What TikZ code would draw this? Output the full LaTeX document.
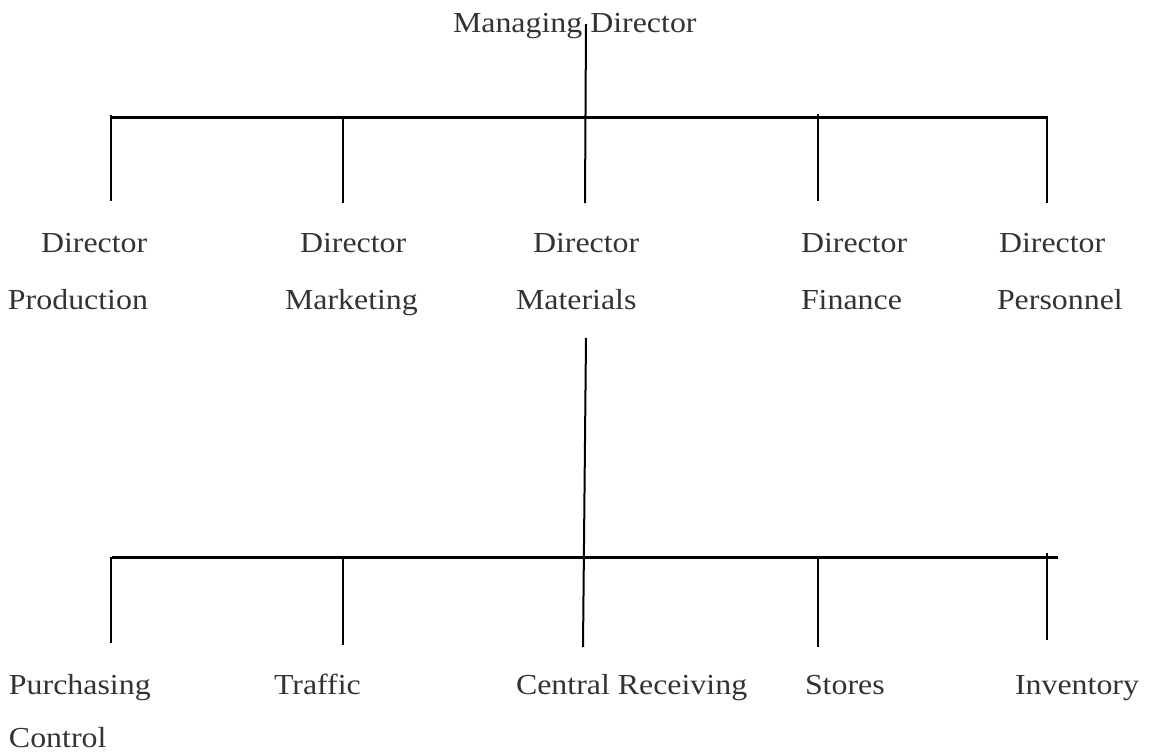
\documentclass[tikz,border=0pt]{standalone}
\usepackage{fontspec}
\setmainfont{Liberation Serif}[FakeStretch=1.1]
\begin{document}
\begin{tikzpicture}[x=1pt,y=-1pt,
  label/.style={anchor=base west,inner sep=0pt,outer sep=0pt,text=black!80,
    font=\fontsize{29}{34}\selectfont},
  bar/.style={line width=3pt,black},
  drop/.style={line width=2pt,black}]
\useasboundingbox (0,0) rectangle (1152,753);

% titles
\node[label] (md) at (453,32) {Managing Director};

\node[label] (prodA) at (41,252) {Director};
\node[label] (prodB) at (8,309) {Production};
\node[label] (markA) at (300,252) {Director};
\node[label] (markB) at (285,309) {Marketing};
\node[label] (matA) at (533,252) {Director};
\node[label] (matB) at (516,309) {Materials};
\node[label] (finA) at (801,252) {Director};
\node[label] (finB) at (801,309) {Finance};
\node[label] (perA) at (999,252) {Director};
\node[label] (perB) at (997,309) {Personnel};

\node[label] (purA) at (9,694) {Purchasing};
\node[label] (purB) at (9,747) {Control};
\node[label] (traf) at (274,694) {Traffic};
\node[label] (crec) at (516,694) {Central Receiving};
\node[label] (stor) at (805,694) {Stores};
\node[label] (inv) at (1015,694) {Inventory};

% line end points
\coordinate (mdtop) at (586,24);
\coordinate (mdbot) at (585,203);
\coordinate (tbL) at (112,117);
\coordinate (tbR) at (1048,117);
\coordinate (t1a) at (111,115);  \coordinate (t1b) at (111,201);
\coordinate (t2a) at (343,117);  \coordinate (t2b) at (343,203);
\coordinate (t4a) at (818,114);  \coordinate (t4b) at (818,201);
\coordinate (t5a) at (1047,117); \coordinate (t5b) at (1047,203);

\coordinate (mattop) at (586,338);
\coordinate (matbot) at (583,647);
\coordinate (bbL) at (112,557);
\coordinate (bbR) at (1058,557);
\coordinate (b1a) at (111,557);  \coordinate (b1b) at (111,643);
\coordinate (b2a) at (343,557);  \coordinate (b2b) at (343,645);
\coordinate (b4a) at (818,557);  \coordinate (b4b) at (818,647);
\coordinate (b5a) at (1047,553); \coordinate (b5b) at (1047,640);

% upper level
\draw[bar] (tbL) -- (tbR);
\draw[drop] (mdtop) -- (mdbot);
\draw[drop] (t1a) -- (t1b);
\draw[drop] (t2a) -- (t2b);
\draw[drop] (t4a) -- (t4b);
\draw[drop] (t5a) -- (t5b);

% lower level
\draw[bar] (bbL) -- (bbR);
\draw[drop] (mattop) -- (matbot);
\draw[drop] (b1a) -- (b1b);
\draw[drop] (b2a) -- (b2b);
\draw[drop] (b4a) -- (b4b);
\draw[drop] (b5a) -- (b5b);
\end{tikzpicture}
\end{document}
